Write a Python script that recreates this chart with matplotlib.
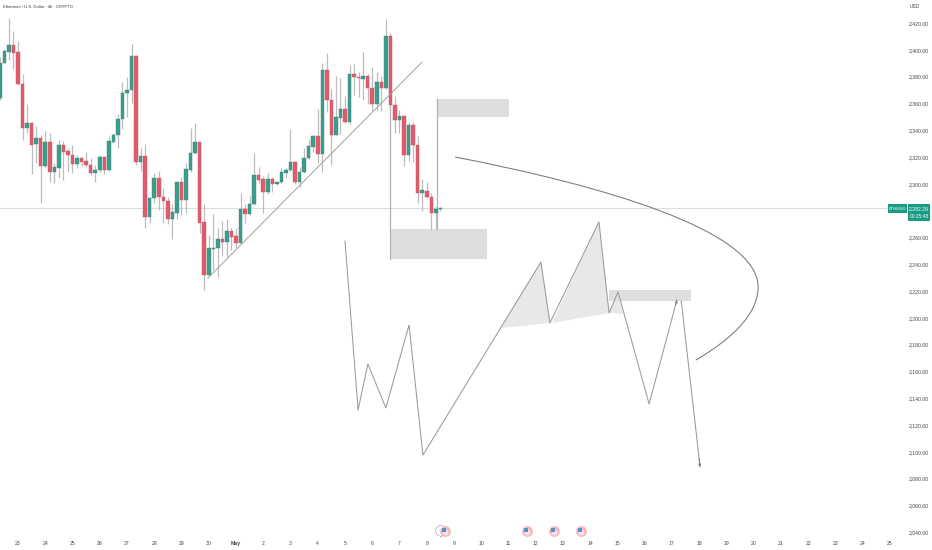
import matplotlib
matplotlib.use("Agg")
import matplotlib.pyplot as plt
from matplotlib.patches import PathPatch, Rectangle
from matplotlib.path import Path

# 4h candles, first bar is 4 bars before Apr 23
opens = [2363.8, 2390.4, 2398.6, 2403.6, 2398.4, 2374.5, 2341.4, 2345.1, 2329.7, 2334.2,
         2313.3, 2331.0, 2308.8, 2311.8, 2328.7, 2324.5, 2321.8, 2315.0, 2319.0, 2317.0,
         2314.0, 2308.3, 2310.3, 2320.0, 2310.3, 2331.5, 2336.2, 2348.4, 2367.5, 2370.0,
         2395.4, 2316.3, 2320.8, 2275.2, 2289.4, 2304.1, 2290.2, 2287.2, 2274.0, 2278.5,
         2301.4, 2288.2, 2310.3, 2322.8, 2331.0, 2271.3, 2232.2, 2251.6, 2251.8, 2259.0,
         2256.6, 2264.8, 2261.0, 2256.0, 2281.4, 2277.7, 2284.9, 2306.3, 2303.3, 2293.9,
         2303.6, 2299.9, 2301.1, 2308.3, 2310.3, 2316.3, 2301.1, 2308.6, 2319.0, 2327.7,
         2335.4, 2322.3, 2384.7, 2362.3, 2336.7, 2349.4, 2355.8, 2346.4, 2381.7, 2380.0,
         2378.5, 2380.5, 2371.3, 2359.6, 2376.2, 2371.3, 2410.3, 2358.6, 2347.9, 2350.4,
         2321.8, 2343.9, 2329.2, 2293.4, 2294.9, 2290.2, 2278.0, 2280.9]
highs = [2394.9, 2400.4, 2423.5, 2414.1, 2406.3, 2382.0, 2359.6, 2346.4, 2343.2, 2336.4,
         2339.4, 2337.7, 2315.3, 2332.7, 2332.0, 2326.5, 2328.7, 2321.5, 2320.3, 2323.7,
         2319.0, 2314.0, 2321.5, 2320.3, 2335.7, 2337.7, 2352.1, 2376.2, 2379.5, 2404.4,
         2396.1, 2326.5, 2329.7, 2290.4, 2308.3, 2309.6, 2296.6, 2290.4, 2284.9, 2301.6,
         2305.3, 2315.3, 2341.4, 2345.6, 2331.5, 2284.9, 2261.8, 2277.5, 2267.3, 2272.5,
         2273.7, 2266.8, 2266.8, 2293.4, 2284.9, 2290.9, 2322.8, 2312.8, 2305.8, 2307.8,
         2305.3, 2301.9, 2311.6, 2311.6, 2340.7, 2316.8, 2312.8, 2326.5, 2333.2, 2336.4,
         2355.6, 2390.4, 2397.9, 2370.5, 2380.5, 2378.7, 2365.5, 2388.7, 2389.4, 2383.5,
         2398.4, 2382.0, 2387.0, 2383.7, 2380.5, 2423.3, 2412.8, 2365.5, 2355.1, 2351.4,
         2346.4, 2346.1, 2335.7, 2303.8, 2301.4, 2293.4, 2283.4, 2282.4]
lows = [2362.6, 2389.9, 2392.4, 2385.7, 2373.8, 2332.7, 2337.7, 2307.1, 2315.3, 2285.9,
        2311.6, 2301.6, 2300.9, 2304.1, 2302.8, 2308.8, 2307.8, 2312.0, 2313.5, 2312.8,
        2306.6, 2301.6, 2309.0, 2307.3, 2309.8, 2330.7, 2326.5, 2340.7, 2350.1, 2360.6,
        2314.0, 2309.8, 2267.3, 2271.0, 2285.4, 2280.5, 2270.5, 2270.0, 2258.6, 2273.5,
        2276.7, 2278.5, 2309.0, 2322.3, 2263.0, 2220.7, 2232.0, 2235.7, 2230.7, 2246.1,
        2245.6, 2250.6, 2251.8, 2255.6, 2271.0, 2276.7, 2284.2, 2300.4, 2278.0, 2292.4,
        2294.1, 2298.9, 2300.4, 2304.1, 2309.8, 2299.9, 2297.9, 2307.8, 2318.3, 2324.0,
        2315.8, 2309.0, 2353.9, 2314.3, 2336.2, 2336.9, 2345.1, 2344.4, 2366.3, 2365.0,
        2362.6, 2359.6, 2354.6, 2355.1, 2354.6, 2370.5, 2357.6, 2338.2, 2338.2, 2313.5,
        2317.3, 2316.5, 2285.9, 2280.0, 2289.2, 2265.5, 2266.0, 2280.0]
closes = [2390.4, 2398.9, 2403.6, 2397.9, 2374.5, 2341.7, 2345.1, 2329.2, 2334.2, 2313.3,
          2331.0, 2308.8, 2312.3, 2328.7, 2324.0, 2321.5, 2315.0, 2319.0, 2316.5, 2313.8,
          2308.3, 2310.6, 2320.0, 2310.3, 2332.0, 2336.4, 2348.4, 2367.8, 2370.3, 2395.4,
          2316.3, 2320.8, 2275.2, 2289.4, 2304.1, 2289.9, 2287.2, 2274.0, 2278.7, 2301.4,
          2288.2, 2310.8, 2323.0, 2331.0, 2271.0, 2232.2, 2252.1, 2252.1, 2258.8, 2256.8,
          2264.8, 2260.6, 2256.0, 2281.4, 2277.7, 2284.9, 2306.3, 2303.1, 2293.9, 2303.6,
          2299.9, 2301.4, 2308.6, 2310.3, 2316.3, 2301.1, 2308.6, 2319.3, 2328.0, 2335.4,
          2322.3, 2384.7, 2362.3, 2336.7, 2349.6, 2355.8, 2346.4, 2382.0, 2380.0, 2379.2,
          2380.5, 2371.3, 2359.8, 2376.2, 2371.3, 2410.3, 2358.6, 2347.9, 2350.4, 2321.8,
          2343.9, 2329.2, 2293.4, 2295.1, 2289.9, 2278.0, 2281.0, 2281.7]
first_bar = -4

day_labels = ["23", "24", "25", "26", "27", "28", "29", "30", "May", "2", "3", "4", "5", "6", "7",
              "8", "9", "10", "11", "12", "13", "14", "15", "16", "17", "18", "19", "20", "21",
              "22", "23", "24", "25"]
price_ticks = [2420, 2400, 2380, 2360, 2340, 2320, 2300, 2260, 2240, 2220, 2200,
               2180, 2160, 2140, 2120, 2100, 2080, 2060, 2040]
last_price = 2282.29

# drawings, x in days since Apr 23, y in price
zigzag_x = [12.0, 12.48, 12.84, 13.5, 14.35, 14.86, 19.19, 19.52, 21.32, 21.69, 22.02, 23.16, 24.18]
zigzag_y = [2257.3, 2131.2, 2165.5, 2132.7, 2194.6, 2097.6, 2241.6, 2196.1, 2271.5, 2203.6, 2219.3, 2135.7, 2213.3]
drop_x = [24.34, 25.03]
drop_y = [2212.5, 2088.7]
trend_x = [6.97, 14.83]
trend_y = [2229.7, 2390.9]
zones = [(15.38, 18.02, 2349.9, 2363.3), (13.65, 17.21, 2243.9, 2266.3), (21.69, 24.7, 2212.8, 2220.7)]
wedges = [[(17.69, 2192.4), (19.19, 2241.6), (19.52, 2196.1)],
          [(19.6, 2196.1), (21.32, 2271.5), (21.69, 2203.6)],
          [(21.69, 2203.6), (22.02, 2219.3), (22.2, 2202.8)]]
arc = [(16.04, 2320.0), (21.36, 2299.1), (27.16, 2265.5), (27.16, 2223.0),
       (27.16, 2202.1), (26.13, 2183.4), (24.88, 2168.5)]
flag_days = [15.67, 18.68, 19.67, 20.66]
flag_price = 2041

GREEN = "#3a9e8d"
RED = "#e25b6c"
LINE = "#9a9a9a"

plt.rcParams["font.family"] = ["Liberation Sans", "DejaVu Sans"]
fig = plt.figure(figsize=(9.32, 5.5), dpi=100)
ax = fig.add_axes([0, 15 / 550, 908 / 932, 535 / 550])
ax.set_xlim(-18 / 27.25, 890 / 27.25)
ax.set_ylim(2420 - 512 / 1.34, 2420 + 23 / 1.34)
for spine in ax.spines.values():
    spine.set_visible(False)

ax.plot([ax.get_xlim()[0], (888 - 18) / 27.25], [last_price, last_price], color="#d5dfdc", lw=0.8, zorder=1)

# candles
bar = 1 / 6
for i, (o, h, l, c) in enumerate(zip(opens, highs, lows, closes)):
    x = (first_bar + i) * bar
    col = GREEN if c >= o else RED
    ax.plot([x, x], [l, h], color="#bdbdbd", lw=0.9, zorder=2, solid_capstyle="butt")
    ax.add_patch(Rectangle((x - 0.39 * bar, min(o, c)), 0.78 * bar, max(abs(c - o), 0.6),
                           facecolor=col, edgecolor="#4d7f76" if col == GREEN else "#b85a66",
                           lw=0.3, zorder=3))

# zones and fills
for x0, x1, y0, y1 in zones:
    ax.add_patch(Rectangle((x0, y0), x1 - x0, y1 - y0, facecolor="#dedede", edgecolor="none", zorder=1.5))
for pts in wedges:
    ax.fill([p[0] for p in pts], [p[1] for p in pts], color="#e8e8e8", lw=0, zorder=1.4)

ax.plot([zones[1][0], zones[1][0]], [zones[1][2], zones[0][3]], color="#b0b0b0", lw=0.9, zorder=1.6)
ax.plot([zones[0][0], zones[0][0]], [zones[1][3], zones[0][3]], color="#b0b0b0", lw=0.9, zorder=1.6)
ax.plot(trend_x, trend_y, color="#a8a4a4", lw=0.75, zorder=4)
ax.plot(zigzag_x, zigzag_y, color=LINE, lw=0.75, zorder=4)
ax.plot(drop_x, drop_y, color=LINE, lw=0.75, zorder=4)
for xs, ys in [(zigzag_x, zigzag_y), (drop_x, drop_y)]:
    ax.annotate("", xy=(xs[-1], ys[-1]),
                xytext=(xs[-1] - 0.05 * (xs[-1] - xs[-2]), ys[-1] - 0.05 * (ys[-1] - ys[-2])), zorder=4,
                arrowprops=dict(arrowstyle="->", color="#777777", lw=0.6, mutation_scale=4, shrinkA=0, shrinkB=0))
ax.add_patch(PathPatch(Path(arc, [Path.MOVETO] + [Path.CURVE4] * 6),
                       facecolor="none", edgecolor="#808080", lw=0.8, zorder=4))

# event flags
ax.scatter(flag_days[0] - 0.15, flag_price, s=60, facecolor="none", edgecolor="#7a5bd0", lw=0.5,
           linestyle=(0, (1.5, 1)), zorder=5, clip_on=False)
ax.scatter(flag_days, [flag_price] * 4, s=60, color="#f6b6bb", lw=0, zorder=6, clip_on=False)
ax.scatter(flag_days, [flag_price - 1] * 4, s=18, color="#fbe3e4", lw=0, zorder=6.1, clip_on=False)
ax.scatter([d - 0.04 for d in flag_days], [flag_price + 1.0] * 4, s=10, color="#5b8ccb", marker="s", lw=0,
           zorder=6.2, clip_on=False)

# axes
ax.set_xticks(range(len(day_labels)), labels=day_labels)
ax.yaxis.tick_right()
ax.set_yticks(price_ticks, labels=[f"{p:,.2f}" for p in price_ticks])
ax.tick_params(axis="both", length=0, labelsize=3.7, labelcolor="#454545")
ax.tick_params(axis="x", pad=4.2)
ax.tick_params(axis="y", pad=0.8)
for lab in ax.get_xticklabels():
    if lab.get_text() == "May":
        lab.set_fontweight("bold")

# header and last price tags
fig.text(3 / 932, 1 - 7 / 550, "Ethereum / U.S. Dollar · 4h · CRYPTO", fontsize=3.0, color="#333333", va="center")
fig.text(915 / 932, 1 - 7 / 550, "USD", fontsize=3.5, color="#454545", va="center", ha="center")
fig.patches.append(Rectangle((888 / 932, 1 - 213 / 550), 19 / 932, 9 / 550, transform=fig.transFigure, facecolor="#1a9c84", edgecolor="none"))
fig.patches.append(Rectangle((908 / 932, 1 - 221 / 550), 22 / 932, 17 / 550, transform=fig.transFigure, facecolor="#1a9c84", edgecolor="none"))
fig.text(897.5 / 932, 1 - 208.5 / 550, "ETH/USD", fontsize=2.9, color="white", va="center", ha="center")
fig.text(919 / 932, 1 - 208.5 / 550, f"{last_price:,.2f}", fontsize=3.7, color="white", va="center", ha="center")
fig.text(919 / 932, 1 - 216 / 550, "00:25:48", fontsize=3.5, color="white", va="center", ha="center")

fig.savefig("out.png", dpi=100)
